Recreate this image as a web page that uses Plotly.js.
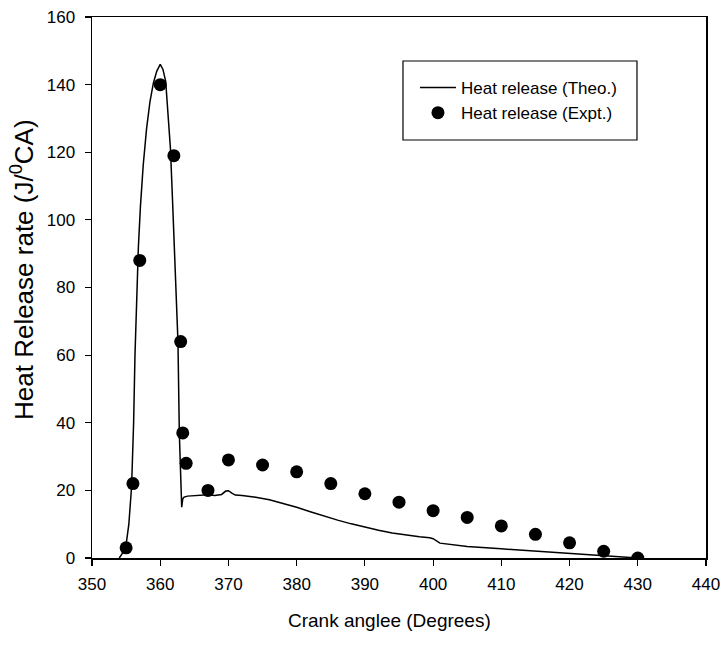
<!DOCTYPE html>
<html>
<head>
<meta charset="utf-8">
<script src="https://cdn.plot.ly/plotly-3.0.1.min.js"></script>
<style>html,body{margin:0;padding:0;background:#fff}#chart{width:722px;height:646px}</style>
</head>
<body>
<div id="chart"></div>
<script>
// Theoretical heat release (line)
const theoX = [354, 354.5, 355, 355.4, 355.8, 356.1, 356.3, 356.5, 356.8, 357.1, 357.5, 358, 358.5, 359, 359.5, 360, 360.4, 360.8, 361.2, 361.5, 361.8, 362.1, 362.3, 362.6, 362.8, 363.0, 363.15, 363.3, 363.5, 364, 365, 366, 367, 368, 369, 369.6, 370, 370.5, 371, 372, 374, 376, 378, 380, 382, 384, 386, 388, 390, 392, 394, 396, 398, 399.5, 400, 401, 403, 405, 410, 415, 420, 425, 430];
const theoY = [0, 1.5, 4, 10, 21, 40, 60, 76, 92, 104, 116, 127, 135, 140.5, 144, 146, 144.5, 141, 131, 121, 106, 88, 76, 64, 37, 25, 15, 17.5, 18, 18.3, 18.5, 18.6, 18.7, 18.5, 18.8, 19.8, 19.9, 19.2, 18.6, 18.5, 18, 17.2, 16.2, 15, 13.7, 12.4, 11.2, 10.1, 9.1, 8.2, 7.4, 6.8, 6.3, 6.0, 5.7, 4.4, 3.8, 3.4, 2.7, 2.0, 1.4, 0.7, 0];
// Experimental heat release (points)
const exptX = [355, 356, 357, 360, 362, 363, 363.3, 363.8, 367, 370, 375, 380, 385, 390, 395, 400, 405, 410, 415, 420, 425, 430];
const exptY = [3, 22, 88, 140, 119, 64, 37, 28, 20, 29, 27.5, 25.5, 22, 19, 16.5, 14, 12, 9.5, 7, 4.5, 2, 0];
const xTicks = [350, 360, 370, 380, 390, 400, 410, 420, 430, 440];
const yTicks = [0, 20, 40, 60, 80, 100, 120, 140, 160];
const xTitle = 'Crank anglee (Degrees)';
const yTitle = 'Heat Release rate (J/<sup>0</sup>CA)';

const font = 'Liberation Sans, Arial, sans-serif';
const traces = [
  {x: theoX, y: theoY, mode: 'lines', name: 'Heat release (Theo.)',
   line: {color: '#000', width: 1.5}},
  {x: exptX, y: exptY, mode: 'markers', name: 'Heat release (Expt.)',
   marker: {color: '#000', size: 13, symbol: 'circle'}}
];
const axisCommon = {
  showline: true, mirror: true, linecolor: '#000', linewidth: 1.5,
  ticks: 'outside', ticklen: 6, tickwidth: 1.2, tickcolor: '#000',
  showgrid: false, zeroline: false, automargin: false,
  tickfont: {family: font, size: 17, color: '#000'}
};
const layout = {
  width: 722, height: 646,
  margin: {l: 92, r: 16, t: 17, b: 88},
  paper_bgcolor: '#fff', plot_bgcolor: '#fff',
  font: {family: font, color: '#000'},
  showlegend: true,
  legend: {x: 0.526, y: 0.8457, xanchor: 'left', yanchor: 'middle',
    borderwidth: 0, bgcolor: 'rgba(0,0,0,0)',
    font: {family: font, size: 17, color: '#000'},
    itemwidth: 36, tracegroupgap: 0},
  shapes: [{type: 'rect', xref: 'paper', yref: 'paper',
    x0: 0.5065, x1: 0.8876, y0: 0.7726, y1: 0.9187,
    line: {color: '#000', width: 1.2}, fillcolor: 'rgba(0,0,0,0)', layer: 'above'}],
  annotations: [
    {text: xTitle, xref: 'paper', yref: 'paper', x: (389 - 92) / 614, y: (558 - 620) / 541,
     xanchor: 'center', yanchor: 'middle', showarrow: false,
     font: {family: font, size: 19, color: '#000'}},
    {text: yTitle, xref: 'paper', yref: 'paper', x: (22 - 92) / 614, y: (558 - 270) / 541,
     xanchor: 'center', yanchor: 'middle', showarrow: false, textangle: -90,
     font: {family: font, size: 26, color: '#000'}}
  ],
  xaxis: Object.assign({}, axisCommon, {
    range: [350, 440], tickvals: xTicks, ticktext: xTicks.map(String),
    ticklabelstandoff: 4
  }),
  yaxis: Object.assign({}, axisCommon, {
    range: [0, 160], tickvals: yTicks, ticktext: yTicks.map(String),
    ticklabelstandoff: 6
  })
};
Plotly.newPlot('chart', traces, layout, {displayModeBar: false, staticPlot: true});
</script>
</body>
</html>
